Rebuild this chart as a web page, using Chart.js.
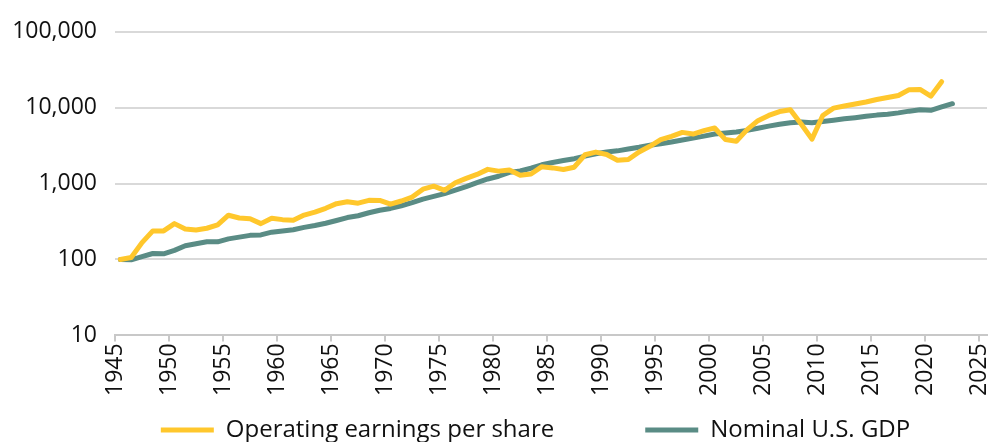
<!DOCTYPE html>
<html>
<head>
<meta charset="utf-8">
<script src="https://cdn.jsdelivr.net/npm/chart.js@4"></script>
<style>
  body { margin: 0; background: #fff; }
  #wrap { width: 988px; height: 442px; }
</style>
</head>
<body>
<div id="wrap"><canvas id="myChart" width="988" height="442"></canvas></div>
<script>
// index, 1945 = 100
const startYear = 1945
const earnings = [
  100, 106, 167, 238, 238, 297, 252, 245, 258, 286,
  383, 352, 345, 297, 350, 335, 330, 385, 420, 473,
  544, 577, 552, 602, 600, 535, 590, 665, 845, 925,
  815, 1025, 1170, 1320, 1540, 1460, 1510, 1290, 1340, 1670,
  1610, 1535, 1645, 2400, 2600, 2420, 2030, 2075, 2610, 3100,
  3800, 4200, 4730, 4500, 4980, 5400, 3800, 3610, 5140, 6750,
  7900, 8900, 9400, 6100, 3850, 7900, 9860, 10550, 11200, 11900,
  12800, 13600, 14500, 17300, 17400, 14200, 22000
]
const gdp = [
  100, 99, 109, 120, 119, 132, 152, 161, 171, 171,
  187, 197, 208, 211, 229, 238, 247, 265, 280, 300,
  326, 357, 377, 413, 446, 471, 511, 561, 625, 678,
  739, 822, 913, 1030, 1150, 1250, 1405, 1465, 1595, 1770,
  1900, 2010, 2130, 2300, 2475, 2615, 2700, 2860, 3010, 3195,
  3350, 3540, 3760, 3975, 4225, 4495, 4640, 4795, 5025, 5360,
  5720, 6060, 6350, 6480, 6350, 6600, 6840, 7130, 7390, 7700,
  7985, 8200, 8545, 9005, 9380, 9240, 10225, 11290
]
const yTicks = [10, 100, 1000, 10000, 100000]
const seriesNames = ['Operating earnings per share', 'Nominal U.S. GDP']

function toPoints(arr) {
  // annual values sit mid-year
  return arr.map((v, i) => ({x: startYear + i + 0.5, y: v}))
}

const font = "'Open Sans', sans-serif"

// nudge legend: it sits a bit right of centre and lower in the original
const legendShift = {
  id: 'legendShift',
  afterLayout(chart) {
    const l = chart.legend
    l.left += 80
    l.top += 10
    l.bottom += 10
  }
}

const data = {
  datasets: [{
    label: seriesNames[0],
    data: toPoints(earnings),
    borderColor: '#FFC72C',
    backgroundColor: '#FFC72C',
    borderWidth: 5,
    borderCapStyle: 'round',
    borderJoinStyle: 'round',
    pointRadius: 0,
    tension: 0
  }, {
    label: seriesNames[1],
    data: toPoints(gdp),
    borderColor: '#5A8C85',
    backgroundColor: '#5A8C85',
    borderWidth: 5,
    borderCapStyle: 'round',
    borderJoinStyle: 'round',
    pointRadius: 0,
    tension: 0
  }]
}

const config = {
  type: 'line',
  data,
  plugins: [legendShift],
  options: {
    responsive: false,
    animation: false,
    layout: { padding: { top: 20, right: 1, left: 4, bottom: 0 } },
    plugins: {
      tooltip: { enabled: false },
      legend: {
        position: 'bottom',
        labels: {
          usePointStyle: true,
          pointStyle: 'line',
          pointStyleWidth: 53,
          boxHeight: 5,
          padding: 10,
          color: '#111',
          font: { family: font, size: 24 },
          generateLabels(chart) {
            const items = Chart.defaults.plugins.legend.labels.generateLabels(chart)
            items[0].text += '             '
            return items
          }
        }
      }
    },
    scales: {
      x: {
        type: 'linear',
        min: 1945,
        max: 2025.7,
        afterFit: s => { s.paddingLeft = 0; s.paddingRight = 0 },
        grid: { drawOnChartArea: false, drawTicks: true, tickLength: 6, color: '#c8c8c8', lineWidth: 2 },
        border: { display: true, color: '#c8c8c8', width: 2 },
        ticks: {
          stepSize: 5,
          includeBounds: false,
          autoSkip: false,
          minRotation: 90,
          maxRotation: 90,
          padding: 2,
          color: '#111',
          font: { family: font, size: 23 },
          callback: v => String(v)
        }
      },
      y: {
        type: 'logarithmic',
        min: 10,
        max: 100000,
        afterBuildTicks: axis => { axis.ticks = yTicks.map(v => ({value: v})) },
        afterFit: s => { s.width = 111 },
        grid: { color: '#d9d9d9', lineWidth: 2, drawTicks: false },
        border: { display: false },
        ticks: {
          padding: 18,
          color: '#111',
          font: { family: font, size: 23 },
          callback: v => v.toLocaleString('en-US')
        }
      }
    }
  }
}

new Chart(document.getElementById('myChart'), config)
</script>
</body>
</html>
